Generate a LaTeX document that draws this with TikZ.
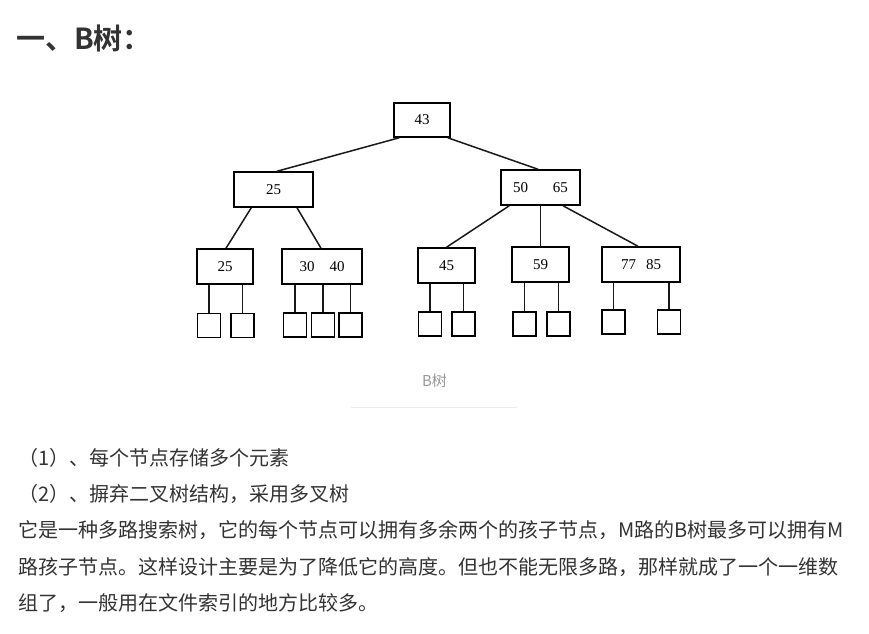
\documentclass[tikz,border=0pt]{standalone}
\usepackage{fontspec}
\setmainfont{Liberation Serif}
\newfontfamily\cjk{Noto Sans CJK SC}[BoldFont={Noto Sans CJK SC Bold}]
\definecolor{txt}{HTML}{333333}
\definecolor{cap}{HTML}{999999}
\definecolor{rule}{HTML}{EBEBEB}
\begin{document}
\begin{tikzpicture}[x=1pt,y=-1pt,
  bnode/.style={draw=black,line width=1.5pt,inner sep=0pt,minimum height=35pt,font=\fontsize{15}{15}\selectfont},
  leafbox/.style={draw=black,line width=1.5pt,inner sep=0pt,minimum width=23pt,minimum height=24pt},
  edge/.style={line width=1.5pt,draw=black!90},
  body/.style={anchor=base west,inner sep=0pt,text=txt,font=\cjk\fontsize{20}{20}\selectfont}]
\fill[white] (0,0) rectangle (869,633);
\useasboundingbox (0,0) rectangle (869,633);
% title
\node[anchor=base west,inner sep=0pt,text=txt,font=\cjk\bfseries\fontsize{29}{29}\selectfont] (title) at (16,49) {一、B树：};
% tree nodes
\node[bnode,minimum width=56pt,minimum height=34pt] (root) at (422,120) {43};
\node[bnode,minimum width=79pt] (la) at (273.5,189.5) {25};
\node[bnode,minimum width=79pt] (lb) at (540.5,187.5) {50\hspace{25pt}65};
\node[bnode,minimum width=56pt] (c1) at (225,266.5) {25};
\node[bnode,minimum width=80pt] (c2) at (322,266.5) {30\hspace{15pt}40};
\node[bnode,minimum width=57pt] (c3) at (446.5,265.5) {45};
\node[bnode,minimum width=57pt] (c4) at (540.5,264.5) {59};
\node[bnode,minimum width=78pt] (c5) at (641,264.5) {77\hspace{10pt}85};
% leaves
\node[leafbox] (f1) at (209,325.5) {};
\node[leafbox] (f2) at (242.5,325.5) {};
\node[leafbox] (f3) at (295,325) {};
\node[leafbox] (f4) at (323,325) {};
\node[leafbox] (f5) at (350.5,325) {};
\node[leafbox] (f6) at (430,324) {};
\node[leafbox] (f7) at (463.5,324) {};
\node[leafbox] (f8) at (524.5,324) {};
\node[leafbox] (f9) at (558.5,324) {};
\node[leafbox] (f10) at (613.5,322) {};
\node[leafbox] (f11) at (669,322) {};
% edges
\draw[edge] ([xshift=6pt]root.south west) -- ([xshift=3.5pt]la.north);
\draw[edge] ([xshift=-3pt]root.south east) -- ([xshift=-2.5pt]lb.north);
\draw[edge] ([xshift=18pt]la.south west) -- ([xshift=1pt]c1.north);
\draw[edge] ([xshift=23.5pt]la.south) -- ([xshift=-1pt]c2.north);
\draw[edge] ([xshift=9pt]lb.south west) -- (c3.north);
\draw[edge] (lb.south) -- (c4.north);
\draw[edge] ([xshift=22.5pt]lb.south) -- ([xshift=-3pt]c5.north);
\foreach \f/\p in {f1/c1,f2/c1,f3/c2,f4/c2,f5/c2,f6/c3,f7/c3,f8/c4,f9/c4,f10/c5,f11/c5}
  \draw[edge] (\f.north) -- (\f.north |- \p.south);
% caption
\node[inner sep=0pt,text=cap,font=\cjk\fontsize{15}{15}\selectfont] (caption) at (434.5,381) {B树};
\coordinate (rl) at (351,407);
\coordinate (rr) at (517,407);
\draw[rule,line width=1pt] (rl) -- (rr);
% body text
\node[body] (t1) at (18,465) {（1）、每个节点存储多个元素};
\node[body] (t2) at (18,501) {（2）、摒弃二叉树结构，采用多叉树};
\node[body] (t3) at (18,537) {它是一种多路搜索树，它的每个节点可以拥有多余两个的孩子节点，M路的B树最多可以拥有M};
\node[body] (t4) at (18,574) {路孩子节点。这样设计主要是为了降低它的高度。但也不能无限多路，那样就成了一个一维数};
\node[body] (t5) at (18,610) {组了，一般用在文件索引的地方比较多。};
\end{tikzpicture}
\end{document}
